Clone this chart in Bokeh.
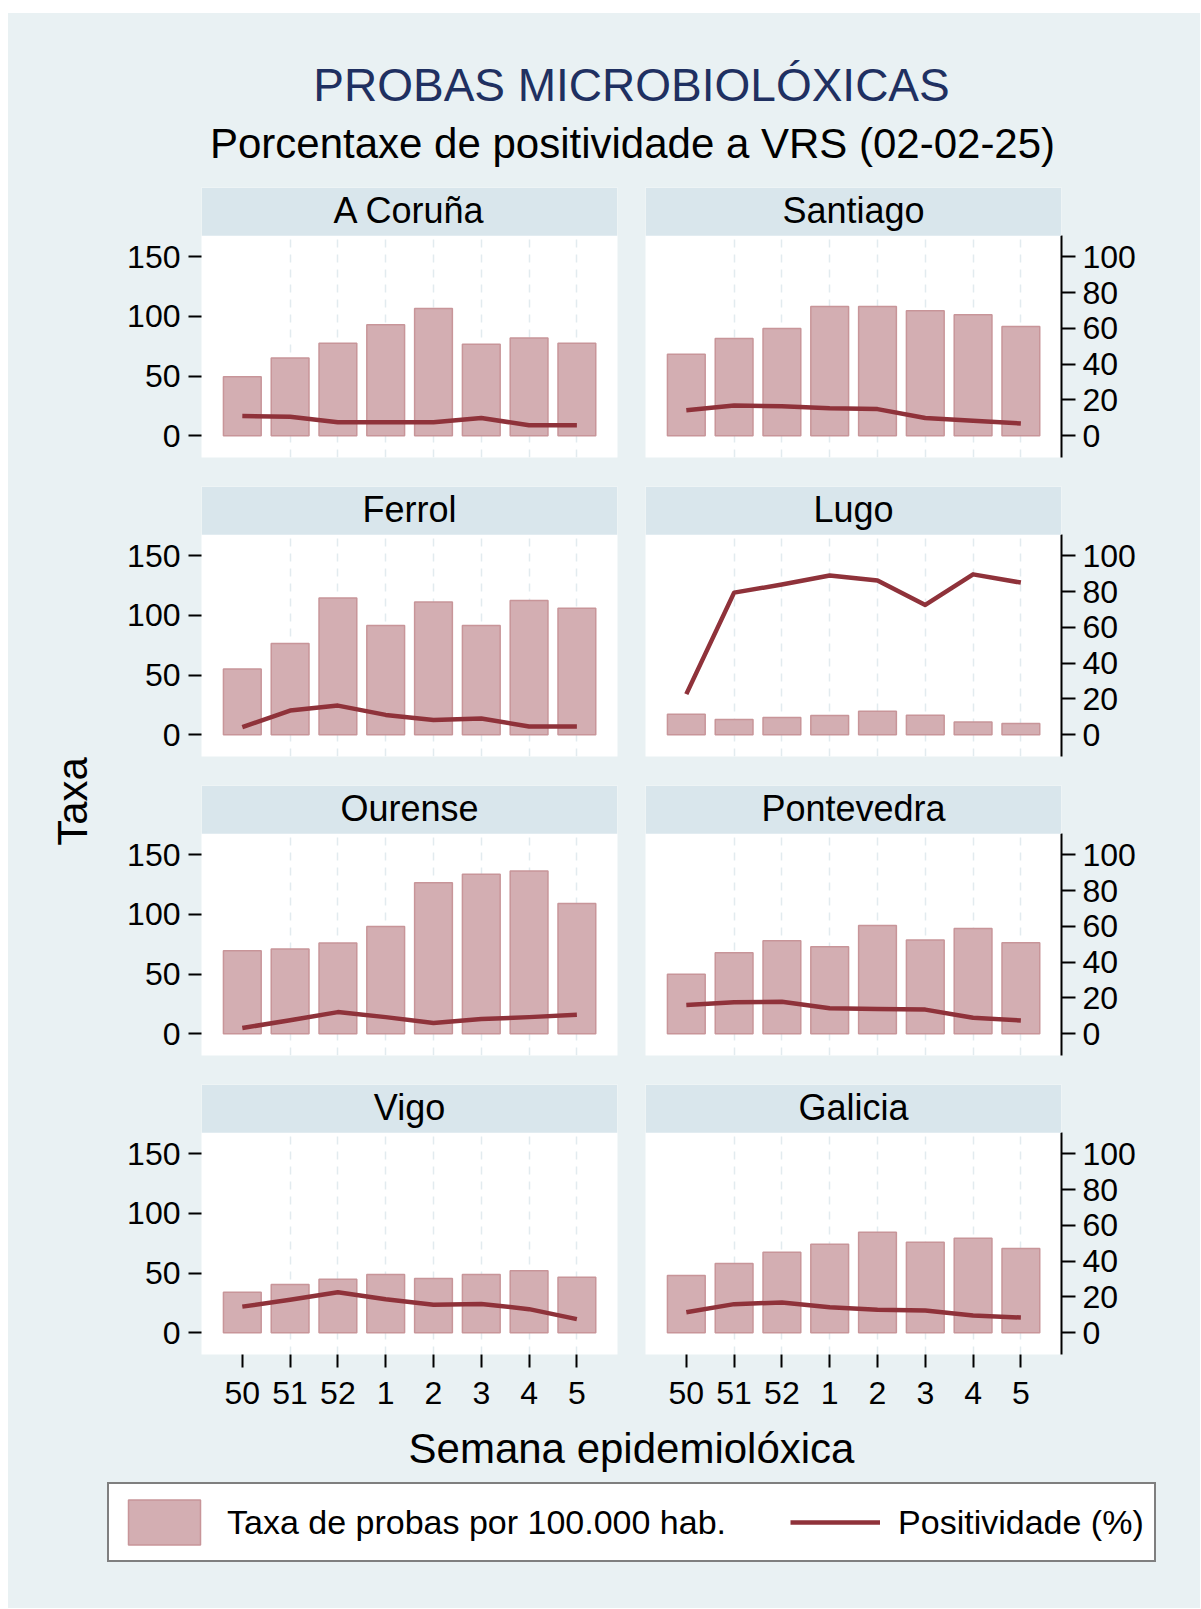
from math import pi
from bokeh.plotting import figure
from bokeh.models import (Range1d, LinearAxis, FixedTicker, Grid, BoxAnnotation,
                          Label, Legend, LegendItem, ColumnDataSource, Spacer)
from bokeh.layouts import row, column
from bokeh.embed import file_html
from bokeh.resources import INLINE

# ---------------- data ----------------
weeks = ["50", "51", "52", "1", "2", "3", "4", "5"]
regions = ["A Coruña", "Santiago", "Ferrol", "Lugo", "Ourense", "Pontevedra", "Vigo", "Galicia"]

taxa_a_coruna = [49.4, 65.1, 77.6, 93.0, 106.6, 76.7, 82.0, 77.6]
pos_a_coruna = [11.0, 10.6, 7.6, 7.6, 7.6, 9.9, 5.9, 5.9]
taxa_santiago = [68.4, 81.5, 89.9, 108.3, 108.3, 104.7, 101.3, 91.5]
pos_santiago = [14.3, 16.9, 16.5, 15.4, 14.9, 9.9, 8.4, 6.9]
taxa_ferrol = [55.2, 76.4, 114.6, 91.5, 111.3, 91.5, 112.4, 105.9]
pos_ferrol = [4.3, 13.5, 16.3, 11.1, 8.3, 9.1, 4.6, 4.6]
taxa_lugo = [17.3, 12.8, 14.5, 16.2, 19.8, 16.4, 10.8, 9.4]
pos_lugo = [22.7, 79.4, 83.9, 89.0, 86.2, 72.5, 89.6, 85.0]
taxa_ourense = [69.6, 71.0, 76.0, 89.9, 126.6, 133.7, 136.4, 109.1]
pos_ourense = [3.2, 7.6, 12.1, 9.3, 6.0, 8.2, 9.3, 10.6]
taxa_pontevedra = [49.8, 67.9, 77.9, 72.9, 90.7, 78.5, 88.2, 76.3]
pos_pontevedra = [16.1, 17.6, 17.9, 14.3, 13.9, 13.5, 8.9, 7.4]
taxa_vigo = [34.0, 40.4, 44.9, 48.8, 45.4, 48.8, 51.9, 46.5]
pos_vigo = [14.6, 18.4, 22.6, 18.7, 15.6, 16.1, 13.2, 7.6]
taxa_galicia = [48.0, 58.0, 67.5, 74.2, 84.2, 75.9, 79.2, 70.5]
pos_galicia = [11.5, 16.0, 16.9, 14.3, 12.8, 12.4, 9.6, 8.5]

left_ticks = [0, 50, 100, 150]
right_ticks = [0, 20, 40, 60, 80, 100]

title_text = "PROBAS MICROBIOLÓXICAS"
subtitle_text = "Porcentaxe de positividade a VRS (02-02-25)"
ytitle_text = "Taxa"
xtitle_text = "Semana epidemiolóxica"
legend_bar_text = "Taxa de probas por 100.000 hab."
legend_line_text = "Positividade (%)"

# ---------------- style ----------------
FONT = "Liberation Sans"
BG = "#e9f1f3"
STRIP = "#d9e6ec"
GRIDC = "#e2ebef"
BARF = "#d3aeb2"
BARL = "#c89599"
LINEC = "#8f323a"
NAVY = "#1f3061"
SHIFT = 0.35  # baseline correction (fraction of font size)

X0, X1 = -0.854, 7.85
L0, LPLOT, LTOP = -18.2, 167.5, 208.0
RATIO = 1.5
PXU = 1.194  # px per left unit

series = [
    (taxa_a_coruna, pos_a_coruna), (taxa_santiago, pos_santiago),
    (taxa_ferrol, pos_ferrol), (taxa_lugo, pos_lugo),
    (taxa_ourense, pos_ourense), (taxa_pontevedra, pos_pontevedra),
    (taxa_vigo, pos_vigo), (taxa_galicia, pos_galicia),
]


def blank(w, h):
    f = figure(width=w, height=h, x_range=Range1d(0, w), y_range=Range1d(0, h),
               x_axis_type=None, y_axis_type=None, toolbar_location=None,
               output_backend="svg", tools="", min_border=0)
    f.outline_line_color = None
    f.background_fill_color = BG
    f.border_fill_color = BG
    f.grid.visible = False
    return f


def make_panel(name, taxa, pos, col, bottom):
    w = 523 if col == 0 else 569
    h = 338 if bottom else 299
    p = figure(width=w, height=h, x_range=Range1d(X0, X1), y_range=Range1d(L0, LTOP),
               x_axis_location="below" if bottom else None,
               y_axis_location="left" if col == 0 else None,
               toolbar_location=None, output_backend="svg", tools="")
    p.extra_y_ranges = {"pos": Range1d(L0 / RATIO, LTOP / RATIO)}
    p.min_border_left = 93 if col == 0 else 14
    p.min_border_right = 14 if col == 0 else 139
    p.min_border_top = 0
    p.min_border_bottom = 68 if bottom else 29
    p.background_fill_color = "white"
    p.border_fill_color = BG
    p.outline_line_color = None
    p.grid.visible = False

    p.add_layout(Grid(dimension=0, ticker=FixedTicker(ticks=list(range(1, len(weeks)))),
                      grid_line_color=GRIDC, grid_line_width=1.5, grid_line_dash="8 7"))

    src = ColumnDataSource(dict(x=list(range(len(weeks))), taxa=taxa, pos=pos))
    p.vbar(x="x", top="taxa", bottom=0, width=0.79, source=src,
           fill_color=BARF, line_color=BARL, line_width=1.5)
    p.line(x="x", y="pos", source=src, y_range_name="pos",
           line_color=LINEC, line_width=4.5, line_join="round")

    if col == 0:
        ax = p.yaxis[0]
        ax.ticker = FixedTicker(ticks=left_ticks)
        ax.bounds = (L0, LPLOT)
        ax.axis_line_color = None
        ax.major_tick_out = 13
        ax.major_tick_in = 0
        ax.major_tick_line_width = 2
        ax.major_label_standoff = 8
        ax.major_label_text_font = FONT
        ax.major_label_text_font_size = "32px"
        ax.major_label_text_color = "black"
    else:
        ax = LinearAxis(y_range_name="pos", ticker=FixedTicker(ticks=right_ticks),
                        bounds=(L0 / RATIO, LPLOT / RATIO),
                        axis_line_color="black", axis_line_width=2,
                        major_tick_out=14, major_tick_in=0, major_tick_line_width=2,
                        major_label_standoff=7, major_label_text_font=FONT,
                        major_label_text_font_size="32px", major_label_text_color="black")
        p.add_layout(ax, "right")

    if bottom:
        xa = p.xaxis[0]
        xa.ticker = FixedTicker(ticks=list(range(len(weeks))))
        xa.major_label_overrides = {i: wk for i, wk in enumerate(weeks)}
        xa.axis_line_color = None
        xa.major_tick_out = 13
        xa.major_tick_in = 0
        xa.major_tick_line_width = 2
        xa.major_label_standoff = 14
        xa.major_label_text_font = FONT
        xa.major_label_text_font_size = "32px"
        xa.major_label_text_color = "black"

    p.add_layout(BoxAnnotation(bottom=LPLOT, fill_color=STRIP, fill_alpha=1.0,
                               line_color=None))
    p.add_layout(Label(x=(X0 + X1) / 2, y=LTOP - 36 / PXU + SHIFT * 36 / PXU, text=name,
                       text_align="center", text_baseline="alphabetic", text_font=FONT,
                       text_font_size="36px", text_color="black"))
    return p


panels = []
for i, name in enumerate(regions):
    taxa, pos = series[i]
    panels.append(make_panel(name, taxa, pos, i % 2, i >= 6))

rows = [row(panels[2 * r], panels[2 * r + 1]) for r in range(4)]

# header (page y 13..187, x 8..1200)
HW, HH = 1192, 174
hdr = blank(HW, HH)
hdr.add_layout(Label(x=623, y=HH - 87.7 + SHIFT * 46, text=title_text, text_align="center",
                     text_baseline="alphabetic", text_font=FONT,
                     text_font_size="46px", text_color=NAVY))
hdr.add_layout(Label(x=624, y=HH - 144.3 + SHIFT * 42, text=subtitle_text, text_align="center",
                     text_baseline="alphabetic", text_font=FONT,
                     text_font_size="42px", text_color="black"))

# y title
body_h = 3 * 299 + 338
ytf = blank(100, body_h)
ytf.add_layout(Label(x=79 - SHIFT * 42, y=body_h - 614, text=ytitle_text, angle=pi / 2,
                     text_align="center", text_baseline="alphabetic",
                     text_font=FONT, text_font_size="42px", text_color="black"))

# bottom: x title + legend (page y 1422..1608)
BH = 186
bot = blank(HW, BH)
bot.add_layout(Label(x=623, y=BH - 40.5 + SHIFT * 42, text=xtitle_text, text_align="center",
                     text_baseline="alphabetic", text_font=FONT,
                     text_font_size="42px", text_color="black"))
nan = float("nan")
rb = bot.vbar(x=[nan], top=[nan], width=1, fill_color=BARF, line_color=BARL, line_width=1.5)
rl = bot.line(x=[nan], y=[nan], line_color=LINEC, line_width=4.5)
leg = Legend(items=[LegendItem(label=legend_bar_text, renderers=[rb]),
                    LegendItem(label=legend_line_text, renderers=[rl])],
             orientation="horizontal", location=(99, 45.7),
             glyph_width=90, glyph_height=56, padding=10, margin=0, spacing=64,
             label_standoff=18, label_text_font=FONT, label_text_font_size="34px",
             label_text_color="black", border_line_color="black",
             border_line_width=2.5, background_fill_color="white",
             background_fill_alpha=1.0)
bot.add_layout(leg)

main = column(hdr, row(ytf, column(*rows)), bot,
              styles={"background-color": BG})
layout = column(Spacer(height=13), row(Spacer(width=8), main))

open("out.html", "w").write(file_html(layout, INLINE))
